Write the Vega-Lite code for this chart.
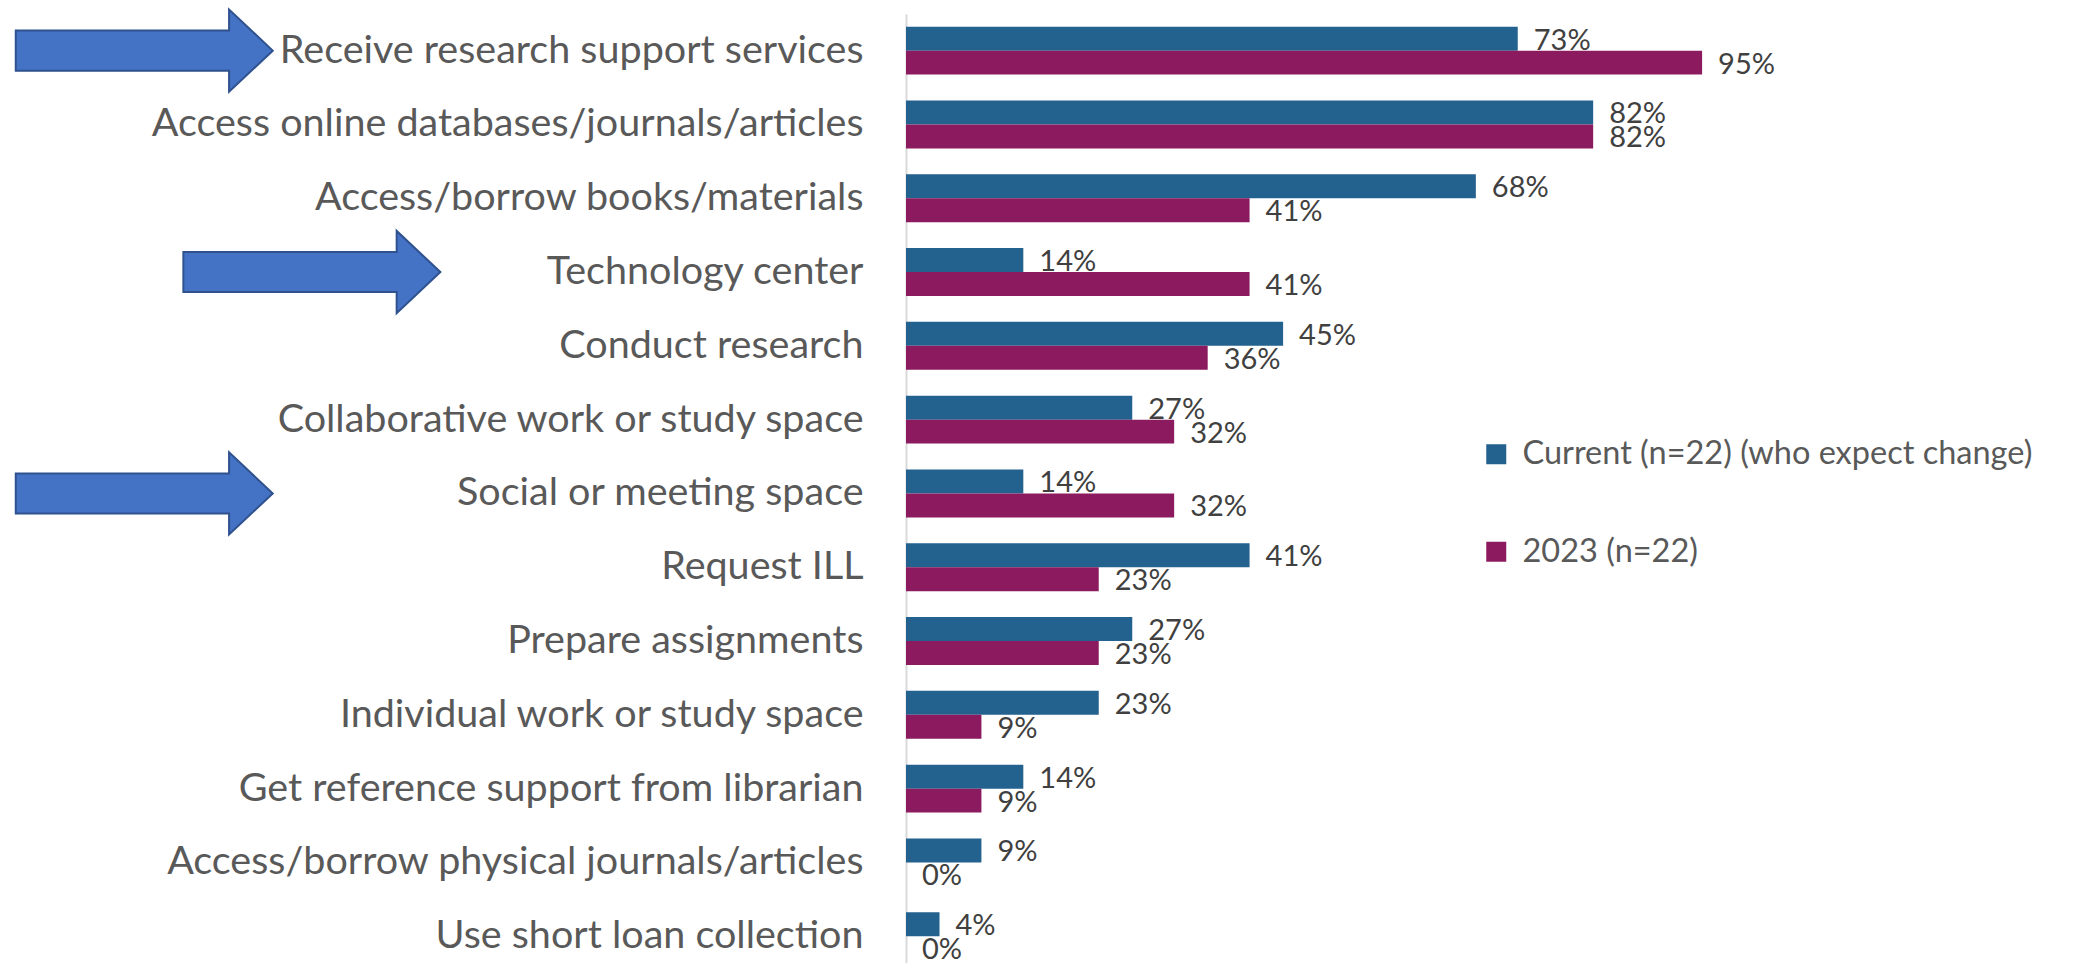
{
  "$schema": "https://vega.github.io/schema/vega-lite/v6.json",
  "autosize": {"type": "none"},
  "padding": {"left": 906, "top": 14, "right": 0, "bottom": 0},
  "width": 1182,
  "height": 949,
  "background": "white",
  "config": {
    "view": {"stroke": null},
    "font": "Lato"
  },
  "datasets": {
    "bars": [
      {"category": "Receive research support services", "series": "Current (n=22) (who expect change)", "share": 0.73},
      {"category": "Receive research support services", "series": "2023 (n=22)", "share": 0.95},
      {"category": "Access online databases/journals/articles", "series": "Current (n=22) (who expect change)", "share": 0.82},
      {"category": "Access online databases/journals/articles", "series": "2023 (n=22)", "share": 0.82},
      {"category": "Access/borrow books/materials", "series": "Current (n=22) (who expect change)", "share": 0.68},
      {"category": "Access/borrow books/materials", "series": "2023 (n=22)", "share": 0.41},
      {"category": "Technology center", "series": "Current (n=22) (who expect change)", "share": 0.14},
      {"category": "Technology center", "series": "2023 (n=22)", "share": 0.41},
      {"category": "Conduct research", "series": "Current (n=22) (who expect change)", "share": 0.45},
      {"category": "Conduct research", "series": "2023 (n=22)", "share": 0.36},
      {"category": "Collaborative work or study space", "series": "Current (n=22) (who expect change)", "share": 0.27},
      {"category": "Collaborative work or study space", "series": "2023 (n=22)", "share": 0.32},
      {"category": "Social or meeting space", "series": "Current (n=22) (who expect change)", "share": 0.14},
      {"category": "Social or meeting space", "series": "2023 (n=22)", "share": 0.32},
      {"category": "Request ILL", "series": "Current (n=22) (who expect change)", "share": 0.41},
      {"category": "Request ILL", "series": "2023 (n=22)", "share": 0.23},
      {"category": "Prepare assignments", "series": "Current (n=22) (who expect change)", "share": 0.27},
      {"category": "Prepare assignments", "series": "2023 (n=22)", "share": 0.23},
      {"category": "Individual work or study space", "series": "Current (n=22) (who expect change)", "share": 0.23},
      {"category": "Individual work or study space", "series": "2023 (n=22)", "share": 0.09},
      {"category": "Get reference support from librarian", "series": "Current (n=22) (who expect change)", "share": 0.14},
      {"category": "Get reference support from librarian", "series": "2023 (n=22)", "share": 0.09},
      {"category": "Access/borrow physical journals/articles", "series": "Current (n=22) (who expect change)", "share": 0.09},
      {"category": "Access/borrow physical journals/articles", "series": "2023 (n=22)", "share": 0.0},
      {"category": "Use short loan collection", "series": "Current (n=22) (who expect change)", "share": 0.04},
      {"category": "Use short loan collection", "series": "2023 (n=22)", "share": 0.0}
    ],
    "arrows": [
      {"category": "Receive research support services", "marker": -0.909},
      {"category": "Technology center", "marker": -0.709},
      {"category": "Social or meeting space", "marker": -0.909}
    ]
  },
  "encoding": {
    "y": {
      "field": "category",
      "type": "nominal",
      "sort": null,
      "scale": {"paddingInner": 0.35, "paddingOuter": 0.1045, "align": 0.82, "round": false},
      "axis": {
        "title": null,
        "ticks": false,
        "labelFontSize": 39.5,
        "labelColor": "#595959",
        "labelPadding": 43,
        "labelLimit": 900,
        "domainColor": "#D9D9D9",
        "domainWidth": 2
      }
    }
  },
  "layer": [
    {
      "data": {"name": "bars"},
      "mark": {"type": "bar"},
      "encoding": {
        "x": {"field": "share", "type": "quantitative", "scale": {"domain": [0, 1.4105], "nice": false}, "axis": null},
        "yOffset": {"field": "series", "type": "nominal", "sort": ["Current (n=22) (who expect change)", "2023 (n=22)"], "scale": {"paddingInner": 0, "paddingOuter": 0}},
        "color": {
          "field": "series",
          "type": "nominal",
          "sort": ["Current (n=22) (who expect change)", "2023 (n=22)"],
          "scale": {"domain": ["Current (n=22) (who expect change)", "2023 (n=22)"], "range": ["#23618F", "#8B1A5E"]},
          "legend": {
            "title": null,
            "orient": "none",
            "legendX": 574,
            "legendY": 424,
            "symbolType": "square",
            "symbolSize": 400,
            "symbolStrokeWidth": 0,
            "labelFontSize": 32.5,
            "labelColor": "#595959",
            "labelOffset": 10,
            "labelLimit": 900,
            "rowPadding": 64.5,
            "padding": 0
          }
        }
      }
    },
    {
      "data": {"name": "bars"},
      "mark": {"type": "text", "align": "left", "baseline": "middle", "dx": 16, "dy": 2, "fontSize": 29, "color": "#404040"},
      "encoding": {
        "x": {"field": "share", "type": "quantitative"},
        "yOffset": {"field": "series", "type": "nominal", "sort": ["Current (n=22) (who expect change)", "2023 (n=22)"]},
        "text": {"field": "share", "type": "quantitative", "format": ".0%"}
      }
    },
    {
      "data": {"name": "arrows"},
      "mark": {
        "type": "point",
        "shape": "M-1,-0.156L0.66,-0.156L0.66,-0.32L1,0L0.66,0.32L0.66,0.156L-1,0.156Z",
        "filled": true,
        "fill": "#4472C4",
        "stroke": "#2F528F",
        "strokeWidth": 2,
        "opacity": 1,
        "size": 66049
      },
      "encoding": {
        "x": {"field": "marker", "type": "quantitative"}
      }
    }
  ]
}
